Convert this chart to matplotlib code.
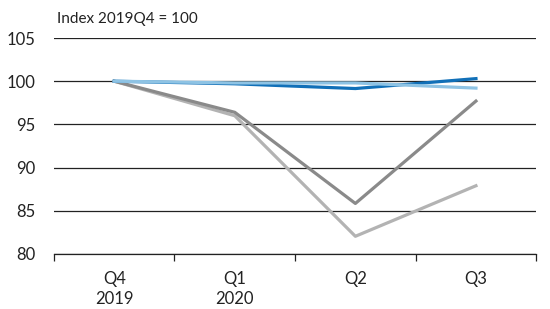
import matplotlib.pyplot as plt

# Data
quarters = ["Q4\n2019", "Q1\n2020", "Q2", "Q3"]
dark_blue = [100, 99.7, 99.15, 100.3]
light_blue = [100, 99.8, 99.8, 99.2]
dark_gray = [100, 96.4, 85.85, 97.7]
light_gray = [100, 96.0, 82.05, 87.9]

plt.rcParams['font.family'] = ['Lato', 'DejaVu Sans']

fig = plt.figure(figsize=(5.5, 3.09), dpi=100)
ax = fig.add_axes([0.098, 0.178, 0.877, 0.699])

x = range(len(quarters))
ax.plot(x, light_gray, color="#b3b3b3", lw=2.3, zorder=3)
ax.plot(x, dark_gray, color="#8a8a8a", lw=2.3, zorder=4)
ax.plot(x, dark_blue, color="#1170b8", lw=2.3, zorder=5)
ax.plot(x, light_blue, color="#8ec3e4", lw=2.3, zorder=6)

ax.set_ylim(80, 105)
ax.set_xlim(-0.5, 3.5)
ax.set_yticks([80, 85, 90, 95, 100, 105])
ax.yaxis.grid(True, color="#222222", lw=0.9)
ax.set_axisbelow(True)

# ticks between categories, labels centered on categories
ax.set_xticks([-0.5, 0.5, 1.5, 2.5, 3.5])
ax.set_xticklabels([])
ax.set_xticks(list(x), minor=True)
ax.set_xticklabels(quarters, minor=True, linespacing=1.3)
ax.tick_params(axis="x", which="major", length=5, width=0.9, color="#222222")
ax.tick_params(axis="x", which="minor", length=0, labelsize=12, pad=12, colors="#222222")
ax.tick_params(axis="y", length=0, labelsize=12, pad=13, colors="#222222")

for s in ["top", "left", "right"]:
    ax.spines[s].set_visible(False)
ax.spines["bottom"].set_color("#222222")
ax.spines["bottom"].set_linewidth(0.9)

fig.text(0.104, 0.94, "Index 2019Q4 = 100", fontsize=11, va="center", ha="left", color="#222222")

fig.savefig("out.png", dpi=100)
